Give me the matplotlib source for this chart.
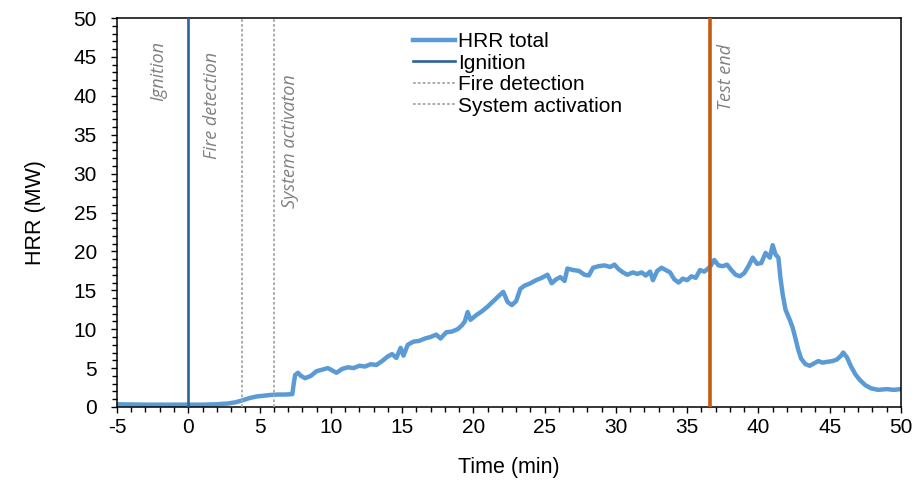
import matplotlib
matplotlib.use("Agg")
import matplotlib.pyplot as plt
from matplotlib.ticker import MultipleLocator

plt.rcParams["axes.unicode_minus"] = False

# HRR curve (time in min, HRR in MW)
time_min = [-5, -3, -1, 0, 1, 2, 2.8, 3.3, 3.8, 4.3, 4.8, 5.3, 5.8, 6.3, 6.8, 7.3,
            7.4, 7.5, 7.7, 7.9, 8.2, 8.6, 9.0, 9.4, 9.8, 10.1, 10.4, 10.8, 11.2,
            11.6, 12.0, 12.4, 12.8, 13.2, 13.6, 14.0, 14.3, 14.6, 14.9, 15.1, 15.4,
            15.8, 16.2, 16.6, 17.0, 17.4, 17.7, 18.1, 18.5, 18.9, 19.2, 19.4, 19.6,
            19.8, 20.2, 20.6, 21.0, 21.4, 21.8, 22.1, 22.4, 22.7, 23.0, 23.3, 23.6,
            24.0, 24.4, 24.8, 25.2, 25.5, 25.8, 26.1, 26.4, 26.6, 27.0, 27.4, 27.8,
            28.1, 28.4, 28.8, 29.2, 29.6, 29.9, 30.2, 30.5, 30.8, 31.2, 31.5, 31.8,
            32.1, 32.4, 32.6, 32.9, 33.2, 33.5, 33.8, 34.1, 34.4, 34.7, 35.0, 35.3,
            35.6, 35.9, 36.2, 36.6, 36.9, 37.2, 37.5, 37.8, 38.1, 38.4, 38.7, 39.0,
            39.3, 39.6, 39.9, 40.2, 40.5, 40.8, 41.0, 41.2, 41.4, 41.55, 41.7, 41.9,
            42.2, 42.4, 42.6, 42.8, 43.0, 43.3, 43.6, 43.9, 44.2, 44.5, 44.8, 45.2,
            45.5, 45.8, 45.95, 46.2, 46.5, 46.8, 47.1, 47.5, 47.9, 48.4, 49.0, 49.5, 50]
hrr_mw = [0.35, 0.3, 0.3, 0.3, 0.3, 0.35, 0.45, 0.6, 0.85, 1.15, 1.35, 1.45, 1.55, 1.6, 1.6, 1.65,
          3.0, 4.1, 4.4, 4.0, 3.7, 4.0, 4.6, 4.8, 5.0, 4.7, 4.4, 4.9, 5.1,
          5.0, 5.3, 5.2, 5.5, 5.4, 5.9, 6.5, 6.8, 6.3, 7.6, 6.6, 8.0,
          8.4, 8.5, 8.8, 9.0, 9.3, 8.8, 9.6, 9.7, 10.0, 10.5, 11.0, 12.2,
          11.2, 11.8, 12.3, 12.9, 13.6, 14.3, 14.8, 13.5, 13.1, 13.6, 15.2, 15.6,
          15.9, 16.3, 16.6, 17.0, 15.9, 16.4, 16.7, 16.2, 17.8, 17.6, 17.5, 17.0,
          16.9, 17.9, 18.1, 18.2, 18.0, 18.3, 17.7, 17.3, 17.0, 17.3, 17.1, 17.3,
          16.9, 17.4, 16.3, 17.5, 17.9, 17.6, 17.3, 16.4, 16.0, 16.5, 16.3, 16.8,
          16.6, 17.6, 17.4, 18.0, 18.9, 18.2, 18.1, 18.3, 17.6, 17.0, 16.8, 17.2,
          18.1, 19.2, 18.4, 18.5, 19.8, 19.2, 20.8, 19.6, 19.2, 16.5, 14.5, 12.5,
          11.2, 10.2, 8.8, 7.3, 6.2, 5.5, 5.3, 5.6, 5.9, 5.7, 5.8, 5.9,
          6.1, 6.6, 7.0, 6.4, 5.2, 4.2, 3.5, 2.8, 2.4, 2.2, 2.3, 2.2, 2.3]

# event times (min)
event_names = ["Ignition", "Fire detection", "System activation", "Test end"]
event_times = [0, 3.8, 6.0, 36.6]
# rotated annotation labels (text as written in the original, incl. typo)
note_texts = ["Ignition", "Fire detection", "System activaton", "Test end"]
note_x = [-2.1, 1.65, 7.15, 37.75]
note_top = [47.0, 45.6, 42.8, 46.6]

fig = plt.figure(figsize=(9.16, 4.87), dpi=100)
ax = fig.add_axes([0.1277, 0.1643, 0.8559, 0.7987])

ax.plot(time_min, hrr_mw, color="#5B9BD5", lw=3.2, label="HRR total", zorder=2)
ax.axvline(event_times[0], color="#2E6399", lw=1.9, label="Ignition", zorder=3)
ax.axvline(event_times[1], color="#A6A6A6", lw=1.3, ls=(0, (1.5, 1.2)), label="Fire detection", zorder=3)
ax.axvline(event_times[2], color="#A6A6A6", lw=1.3, ls=(0, (1.5, 1.2)), label="System activation", zorder=3)
ax.axvline(event_times[3], color="#C55A11", lw=2.6, zorder=3)

for txt, x, top in zip(note_texts, note_x, note_top):
    ax.text(x, top, txt, rotation=90, ha="center", va="top", color="#808080",
            fontsize=13, style="italic", family=["Open Sans", "DejaVu Sans"])

ax.set_xlim(-5, 50)
ax.set_ylim(0, 50)
ax.xaxis.set_major_locator(MultipleLocator(5))
ax.xaxis.set_minor_locator(MultipleLocator(1))
ax.yaxis.set_major_locator(MultipleLocator(5))
ax.yaxis.set_minor_locator(MultipleLocator(1))
ax.tick_params(which="both", direction="out", width=1, labelsize=15, colors="black")
ax.tick_params(which="major", length=4.5)
ax.tick_params(which="minor", length=3.5)
ax.tick_params(axis="y", which="major", pad=10)
for lbl in ax.get_xticklabels() + ax.get_yticklabels():
    lbl.set_family("Liberation Sans")
for sp in ax.spines.values():
    sp.set_linewidth(1.1)

ax.set_xlabel("Time (min)", fontsize=15.5, family="Liberation Sans", labelpad=14)
ax.set_ylabel("HRR (MW)", fontsize=15.5, family="Liberation Sans", labelpad=20)

leg = ax.legend(loc="upper left", bbox_to_anchor=(0.37, 0.98), frameon=False,
                prop={"family": "Liberation Sans", "size": 15},
                handlelength=2.0, handletextpad=0.15, labelspacing=0.12,
                borderaxespad=0.0, borderpad=0.3)

fig.savefig("out.png", dpi=100)
